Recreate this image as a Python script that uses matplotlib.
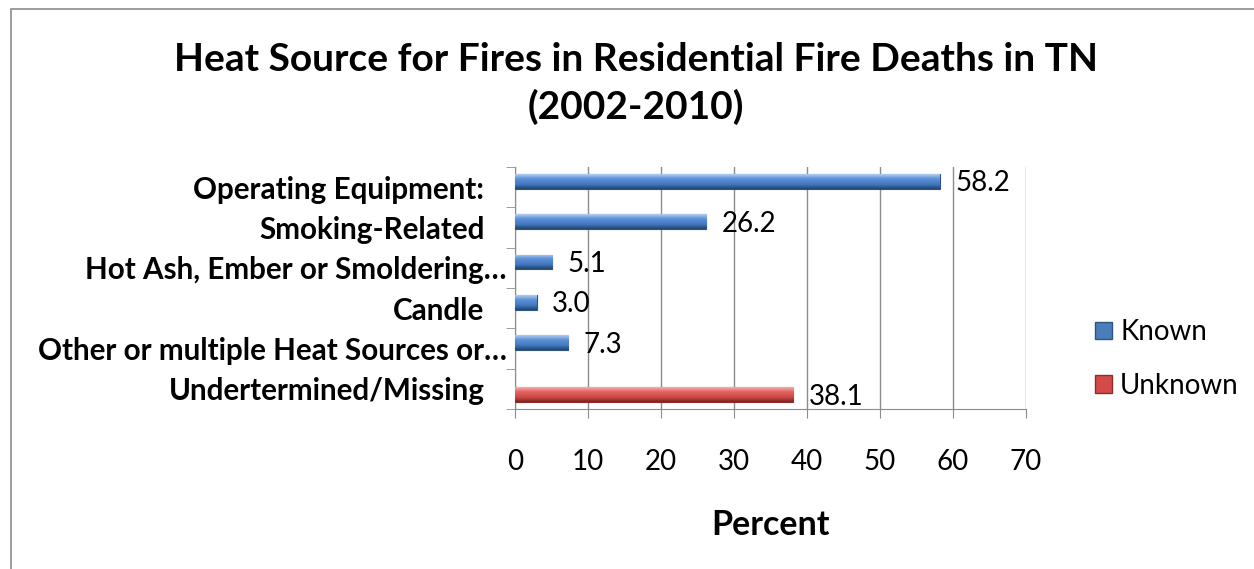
import numpy as np
import matplotlib
matplotlib.use("Agg")
import matplotlib.pyplot as plt
from matplotlib.patches import Rectangle, Patch
from matplotlib.colors import LinearSegmentedColormap

# data
categories = ["Operating Equipment:", "Smoking-Related",
              "Hot Ash, Ember or Smoldering\u2026", "Candle",
              "Other or multiple Heat Sources or\u2026", "Undertermined/Missing"]
known = [58.2, 26.2, 5.1, 3.0, 7.3, 0.0]
unknown = [0.0, 0.0, 0.0, 0.0, 0.0, 38.1]
series_names = ["Known", "Unknown"]
xticks = [0, 10, 20, 30, 40, 50, 60, 70]

plt.rcParams['font.family'] = ['Lato', 'DejaVu Sans']

W, H = 1254, 569
fig = plt.figure(figsize=(W / 100, H / 100), dpi=100)
ax = fig.add_axes([515 / W, 1 - 409 / H, (1026 - 515) / W, (409 - 167) / H])

blue, blue_edge = '#4a7ebb', '#2c5382'
red, red_edge = '#d24b49', '#8e2b2a'
blue_cm = LinearSegmentedColormap.from_list(
    'b', [(0, '#b4cdef'), (0.3, '#5e93da'), (0.7, '#4276bd'), (1, '#22466f')])
red_cm = LinearSegmentedColormap.from_list(
    'r', [(0, '#f4b0ae'), (0.3, '#e46462'), (0.7, '#c94846'), (1, '#7a2222')])


def shade(bars, cmap):
    # glossy vertical gradient like the old Excel bar style
    grad = np.linspace(0, 1, 64).reshape(-1, 1)
    for b in bars:
        x0, y0 = b.get_x(), b.get_y()
        w, h = b.get_width(), b.get_height()
        im = ax.imshow(grad, cmap=cmap, aspect='auto', origin='upper',
                       extent=(x0, x0 + w, y0 + h, y0), zorder=3.5)
        im.set_clip_path(b)


y = np.arange(len(categories))
bw = 0.36
off = 0.145
known = np.array(known)
unknown = np.array(unknown)
mk = known > 0
mu = unknown > 0
kb = ax.barh(y[mk] - off, known[mk], height=bw, color=blue, edgecolor=blue_edge,
             linewidth=0.8, zorder=3)
ub = ax.barh(y[mu] + off, unknown[mu], height=bw, color=red, edgecolor=red_edge,
             linewidth=0.8, zorder=3)
shade(kb, blue_cm)
shade(ub, red_cm)

# value labels
for yy, v in zip(y[mk] - off, known[mk]):
    ax.annotate(f"{v:.1f}", (v, yy), xytext=(11, -1.5), textcoords='offset points',
                va='center', ha='left', fontsize=20, zorder=4)
for yy, v in zip(y[mu] + off, unknown[mu]):
    ax.annotate(f"{v:.1f}", (v, yy), xytext=(11, -1.5), textcoords='offset points',
                va='center', ha='left', fontsize=20, zorder=4)

ax.set_xlim(0, 70)
ax.set_ylim(len(categories) - 0.5, -0.5)
ax.set_xticks(xticks)
ax.set_xticklabels([str(t) for t in xticks], fontsize=20)
ax.tick_params(axis='x', length=6.5, color='#8c8c8c', pad=22)
ax.grid(axis='x', color='#8c8c8c', linewidth=1, zorder=0)

ax.set_yticks(y)
ax.set_yticklabels(categories, fontsize=21.3, fontweight='bold')
ax.set_yticks(np.arange(len(categories) + 1) - 0.5, minor=True)
ax.tick_params(axis='y', which='major', length=0)
ax.tick_params(axis='y', which='minor', length=6.5, color='#8c8c8c')
for t, lab in zip(ax.yaxis.get_major_ticks(), categories):
    t.set_pad(6 if lab.endswith('\u2026') else 22)

for s in ['top', 'right']:
    ax.spines[s].set_visible(False)
for s in ['left', 'bottom']:
    ax.spines[s].set_color('#8c8c8c')

ax.set_xlabel("Percent", fontsize=24.5, fontweight='bold', labelpad=25)

handles = [Patch(facecolor=blue, edgecolor=blue_edge),
           Patch(facecolor=red, edgecolor=red_edge)]
fig.legend(handles, series_names, loc='center left',
           bbox_to_anchor=(1084 / W, 1 - 359 / H), frameon=False, fontsize=20,
           handlelength=0.6, handleheight=0.6, handletextpad=0.3,
           labelspacing=1.0, borderaxespad=0)

fig.text(636 / W, 1 - 83.5 / H,
         "Heat Source for Fires in Residential Fire Deaths in TN\n(2002-2010)",
         ha='center', va='center', fontsize=28, fontweight='bold',
         linespacing=1.38)

fig.add_artist(Rectangle((11 / W, -0.1), 2, 1.1 - 9 / H, transform=fig.transFigure,
                         fill=False, edgecolor='#8c8c8c', linewidth=1.2))

fig.savefig("out.png", dpi=100)
